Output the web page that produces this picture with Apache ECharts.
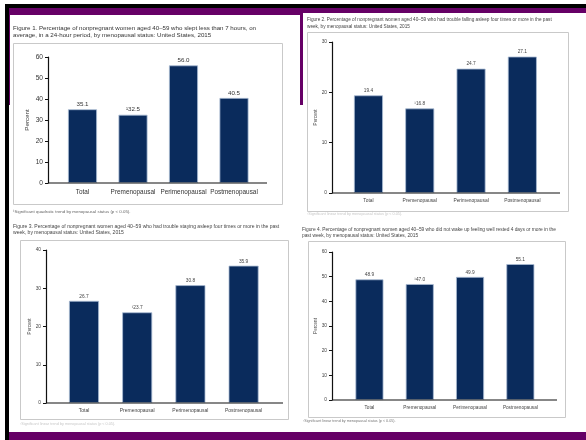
<!DOCTYPE html>
<html>
<head>
<meta charset="utf-8">
<script src="https://cdn.jsdelivr.net/npm/echarts@6/dist/echarts.min.js"></script>
<style>
html,body{margin:0;padding:0;background:#fff;}
#c{width:586px;height:440px;}
</style>
</head>
<body>
<div id="c"></div>
<script>
// ---- data ----
const categories = ['Total', 'Premenopausal', 'Perimenopausal', 'Postmenopausal'];
const fig1Values = [35.1, 32.5, 56.0, 40.5];
const fig2Values = [19.4, 16.8, 24.7, 27.1];
const fig3Values = [26.7, 23.7, 30.8, 35.9];
const fig4Values = [48.9, 47.0, 49.9, 55.1];
const fig1Marks = ['', '¹', '', ''];
const fig2Marks = ['', '¹', '', ''];
const fig3Marks = ['', '¹', '', ''];
const fig4Marks = ['', '¹', '', ''];
const yMaxes = [60, 30, 40, 60];
const yStep = 10;
const titles = [
  'Figure 1. Percentage of nonpregnant women aged 40–59 who slept less than 7 hours, on\naverage, in a 24-hour period, by menopausal status: United States, 2015',
  'Figure 2. Percentage of nonpregnant women aged 40–59 who had trouble falling asleep four times or more in the past\nweek, by menopausal status: United States, 2015',
  'Figure 3. Percentage of nonpregnant women aged 40–59 who had trouble staying asleep four times or more in the past\nweek, by menopausal status: United States, 2015',
  'Figure 4. Percentage of nonpregnant women aged 40–59 who did not wake up feeling well rested 4 days or more in the\npast week, by menopausal status: United States, 2015'
];
const footnotes = [
  '¹Significant quadratic trend by menopausal status (p < 0.05).',
  '¹Significant linear trend by menopausal status (p < 0.05).',
  '¹Significant linear trend by menopausal status (p < 0.05).',
  '¹Significant linear trend by menopausal status (p < 0.05).'
];
const yName = 'Percent';

const values = [fig1Values, fig2Values, fig3Values, fig4Values];
const marks = [fig1Marks, fig2Marks, fig3Marks, fig4Marks];

// ---- layout (pixels) ----
const L = [
  {axisX:48, gl:57.25, gw:202, top:57, y0:183, end:267, bw:29, tick:6.6, cat:6.4, val:6.2, nameGap:18, nameSize:6.2,
   title:{x:13, y:24.5, fs:6.17, lh:7}, foot:{x:13, y:209.5, fs:4.4, c:'#666'}, box:[13,43,269,161], txt:'#333', catMargin:6},
  {axisX:332, gl:342.8, gw:205.2, top:42, y0:193, end:560, bw:29, tick:4.8, cat:4.9, val:4.8, nameGap:10, nameSize:4.6,
   title:{x:307, y:17, fs:4.7, lh:6.2}, foot:{x:307, y:212, fs:3.8, c:'#c8c8c8'}, box:[307,32,261,179], txt:'#444', catMargin:5},
  {axisX:46, gl:57.4, gw:212.8, top:250, y0:403, end:283, bw:30, tick:4.8, cat:5.0, val:4.8, nameGap:10, nameSize:4.6,
   title:{x:13, y:224, fs:5.05, lh:5.8}, foot:{x:20, y:422, fs:3.8, c:'#c8c8c8'}, box:[20,240,268,179], txt:'#444', catMargin:5},
  {axisX:332, gl:344.3, gw:201.2, top:252, y0:400, end:557, bw:28, tick:4.8, cat:4.7, val:4.8, nameGap:10, nameSize:4.6,
   title:{x:302, y:227, fs:4.82, lh:5.8}, foot:{x:303, y:419, fs:3.7, c:'#777'}, box:[308,241,257,176], txt:'#444', catMargin:5}
];

const FONT = '"Liberation Sans", Arial, sans-serif';
const PURPLE = '#660066';
const BAR = '#0a2b5c';

const grids = [], xAxes = [], yAxes = [], series = [], graphics = [];

// background decorations
graphics.push({type:'rect', z:-20, shape:{x:9, y:8, width:296, height:97}, style:{fill:PURPLE}});
graphics.push({type:'rect', z:-20, shape:{x:9, y:8, width:577, height:6}, style:{fill:PURPLE}});
graphics.push({type:'rect', z:-19, shape:{x:10, y:15, width:290, height:200}, style:{fill:'#fff'}});
graphics.push({type:'rect', z:-19, shape:{x:303, y:13, width:283, height:220}, style:{fill:'#fff'}});
graphics.push({type:'rect', z:-18, shape:{x:8, y:432, width:578, height:8}, style:{fill:PURPLE}});
graphics.push({type:'rect', z:-17, shape:{x:5, y:4, width:581, height:4}, style:{fill:'#000'}});
graphics.push({type:'rect', z:-17, shape:{x:5, y:4, width:4, height:436}, style:{fill:'#000'}});

L.forEach((g, i) => {
  const h = g.y0 - g.top;
  grids.push({left:g.gl, top:g.top, width:g.gw, height:h, containLabel:false});
  xAxes.push({
    gridIndex:i, type:'category', data:categories,
    axisLine:{show:false}, axisTick:{show:false},
    axisLabel:{interval:0, fontSize:g.cat, color:g.txt, margin:g.catMargin, fontFamily:FONT}
  });
  yAxes.push({
    gridIndex:i, type:'value', min:0, max:yMaxes[i], interval:yStep,
    offset:g.gl - g.axisX,
    name:yName, nameLocation:'middle', nameRotate:90, nameGap:g.nameGap,
    nameTextStyle:{fontSize:g.nameSize, color:g.txt, fontFamily:FONT},
    axisLine:{show:true, lineStyle:{color:'#111', width:1.2}},
    axisTick:{show:true, length:3, lineStyle:{color:'#111'}},
    axisLabel:{fontSize:g.tick, color:g.txt, margin:5, fontFamily:FONT},
    splitLine:{show:false}
  });
  const mk = marks[i];
  series.push({
    type:'bar', xAxisIndex:i, yAxisIndex:i, data:values[i], barWidth:g.bw,
    itemStyle:{color:BAR, borderColor:'#a9bbd3', borderWidth:0.8},
    label:{show:true, position:'top', distance:2, fontSize:g.val, color:g.txt, fontFamily:FONT,
      formatter:p => mk[p.dataIndex] + Number(p.value).toFixed(1)}
  });
  graphics.push({type:'rect', z:-5, shape:{x:g.box[0]+0.5, y:g.box[1]+0.5, width:g.box[2], height:g.box[3]},
    style:{fill:'none', stroke:'#c9c9c9', lineWidth:1}});
  graphics.push({type:'line', z:50, shape:{x1:g.axisX, y1:g.y0, x2:g.end, y2:g.y0},
    style:{stroke:'#111', lineWidth:1.2}});
  graphics.push({type:'text', z:10, left:g.title.x, top:g.title.y,
    style:{text:titles[i], fontSize:g.title.fs, lineHeight:g.title.lh, fill:g.txt, fontFamily:FONT}});
  graphics.push({type:'text', z:10, left:g.foot.x, top:g.foot.y,
    style:{text:footnotes[i], fontSize:g.foot.fs, fill:g.foot.c, fontFamily:FONT}});
});

const chart = echarts.init(document.getElementById('c'), null, {renderer:'canvas'});
chart.setOption({
  backgroundColor:'#ffffff',
  animation:false,
  grid:grids, xAxis:xAxes, yAxis:yAxes, series:series,
  graphic:{elements:graphics}
});
</script>
</body>
</html>
